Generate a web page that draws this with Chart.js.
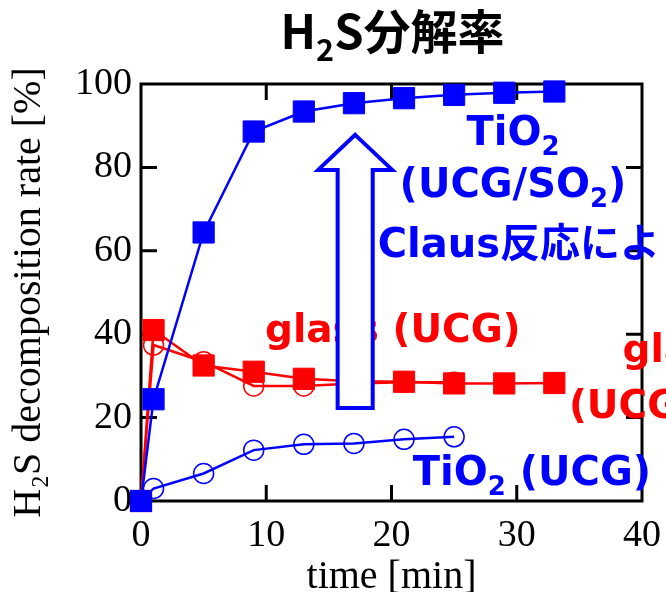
<!DOCTYPE html>
<html>
<head>
<meta charset="utf-8">
<script src="https://cdn.jsdelivr.net/npm/chart.js@4.4.1/dist/chart.umd.min.js"></script>
<style>
  body { margin: 0; background: #fff; }
  canvas { display: block; }
</style>
</head>
<body>
<canvas id="rateChart" width="666" height="592"></canvas>
<script>
// sampling times [min]
const timeSO2 = [0, 1, 5, 9, 13, 17, 21, 25, 29, 33];
const timeUCG = [0, 1, 5, 9, 13, 17, 21, 25];

// H2S decomposition rate [%]
const tio2SO2 = [0, 24.4, 64.4, 88.6, 93.4, 95.4, 96.6, 97.4, 97.9, 98.2];
const glassSO2 = [0, 41, 32.5, 31, 29.3, 28.7, 28.6, 28.2, 28.2, 28.3];
const glassUCG = [0, 37.4, 33.4, 27.6, 27.6, 28.2, 28.5, 28.5];
const tio2UCG = [0, 3.0, 6.6, 12.2, 13.6, 13.8, 14.8, 15.4];

const xTicks = [0, 10, 20, 30, 40];
const yTicks = [0, 20, 40, 60, 80, 100];

const BLUE = "#0000ff";
const RED = "#ff0000";
const LABEL_FONT = "'DejaVu Sans', 'Noto Sans CJK JP', sans-serif";
const SERIF = "'Liberation Serif', 'Times New Roman', serif";

function points(xs, ys) {
  return xs.map((t, i) => ({ x: t, y: ys[i] }));
}

// text with subscripts: parts = [[text, isSub], ...]
function richText(ctx, parts, x, y, align, size, family, color) {
  const subSize = size * 0.65;
  let width = 0;
  parts.forEach(p => {
    ctx.font = "bold " + (p[1] ? subSize : size) + "px " + family;
    width += ctx.measureText(p[0]).width;
  });
  let cx = align == "center" ? x - width / 2 : x;
  ctx.fillStyle = color;
  ctx.textBaseline = "alphabetic";
  ctx.textAlign = "left";
  parts.forEach(p => {
    ctx.font = "bold " + (p[1] ? subSize : size) + "px " + family;
    ctx.fillText(p[0], cx, p[1] ? y + size * 0.25 : y);
    cx += ctx.measureText(p[0]).width;
  });
}

// labels placed in data units
const underArrowNotes = [
  { parts: [["glass (UCG)"]], x: 9.9, y: 38.1, align: "left", color: RED, size: 39 }
];
const notes = [
  { parts: [["TiO"], ["2", true]], x: 29.7, y: 85.4, align: "center", color: BLUE, size: 40 },
  { parts: [["(UCG/SO"], ["2", true], [")"]], x: 29.7, y: 72.9, align: "center", color: BLUE, size: 40 },
  { parts: [["Claus反応により"]], x: 18.9, y: 58.5, align: "left", color: BLUE, size: 40 },
  { parts: [["glass"]], x: 43, y: 33.3, align: "center", color: RED, size: 39 },
  { parts: [["(UCG/SO"], ["2", true], [")"]], x: 43, y: 19.9, align: "center", color: RED, size: 39 },
  { parts: [["TiO"], ["2", true], [" (UCG)"]], x: 21.7, y: 3.8, align: "left", color: BLUE, size: 40 }
];

const framePlugin = {
  id: "frame",
  beforeDatasetsDraw(chart) {
    const { ctx, chartArea: a, scales: { x, y } } = chart;
    ctx.save();
    ctx.strokeStyle = "#000";
    ctx.lineWidth = 3;
    ctx.strokeRect(a.left, a.top, a.right - a.left, a.bottom - a.top);
    ctx.beginPath();
    xTicks.slice(1, -1).forEach(v => {
      const px = x.getPixelForValue(v);
      ctx.moveTo(px, a.bottom); ctx.lineTo(px, a.bottom - 16);
      ctx.moveTo(px, a.top); ctx.lineTo(px, a.top + 16);
    });
    yTicks.slice(1, -1).forEach(v => {
      const py = y.getPixelForValue(v);
      ctx.moveTo(a.left, py); ctx.lineTo(a.left + 16, py);
      ctx.moveTo(a.right, py); ctx.lineTo(a.right - 16, py);
    });
    ctx.stroke();
    ctx.restore();
  }
};

const notesPlugin = {
  id: "notes",
  afterDatasetsDraw(chart) {
    const { ctx, chartArea: a, scales: { x, y } } = chart;
    ctx.save();
    underArrowNotes.forEach(n => {
      richText(ctx, n.parts, x.getPixelForValue(n.x), y.getPixelForValue(n.y), n.align, n.size, LABEL_FONT, n.color);
    });

    // hollow arrow (Claus reaction)
    const cx = 17.1, half = 1.4, headHalf = 2.96;
    const pts = [
      [cx, 87.8], [cx + headHalf, 79.4], [cx + half, 79.4], [cx + half, 22.3],
      [cx - half, 22.3], [cx - half, 79.4], [cx - headHalf, 79.4]
    ];
    ctx.beginPath();
    pts.forEach((p, i) => {
      const px = x.getPixelForValue(p[0]), py = y.getPixelForValue(p[1]);
      if (i == 0) ctx.moveTo(px, py); else ctx.lineTo(px, py);
    });
    ctx.closePath();
    ctx.fillStyle = "#fff";
    ctx.fill();
    ctx.strokeStyle = BLUE;
    ctx.lineWidth = 4;
    ctx.lineJoin = "miter";
    ctx.stroke();

    notes.forEach(n => {
      richText(ctx, n.parts, x.getPixelForValue(n.x), y.getPixelForValue(n.y), n.align, n.size, LABEL_FONT, n.color);
    });

    // chart title
    richText(ctx, [["H"], ["2", true], ["S分解率"]], (a.left + a.right) / 2 + 1, 49, "center", 47,
      "'Noto Sans CJK JP', sans-serif", "#000");
    ctx.restore();
  }
};

new Chart(document.getElementById("rateChart"), {
  type: "line",
  data: {
    datasets: [
      {
        data: points(timeSO2, tio2SO2),
        borderColor: BLUE, backgroundColor: BLUE, borderWidth: 2.5,
        pointStyle: "rect", pointRadius: 15, pointBorderWidth: 1,
        order: 0, clip: false
      },
      {
        data: points(timeSO2, glassSO2),
        borderColor: RED, backgroundColor: RED, borderWidth: 2.5,
        pointStyle: "rect", pointRadius: 15, pointBorderWidth: 1,
        order: 1, clip: false
      },
      {
        data: points(timeUCG, tio2UCG),
        borderColor: BLUE, backgroundColor: "rgba(0,0,0,0)", borderWidth: 2.5,
        pointStyle: "circle", pointRadius: 10, pointBorderWidth: 1.5,
        order: 2, clip: false
      },
      {
        data: points(timeUCG, glassUCG),
        borderColor: RED, backgroundColor: "rgba(0,0,0,0)", borderWidth: 2.5,
        pointStyle: "circle", pointRadius: 10, pointBorderWidth: 1.5,
        order: 3, clip: false
      }
    ]
  },
  options: {
    responsive: false,
    animation: false,
    layout: { padding: { top: 84, right: 24, left: 0, bottom: 0 } },
    plugins: {
      legend: { display: false },
      tooltip: { enabled: false },
      title: { display: false }
    },
    scales: {
      x: {
        type: "linear",
        min: 0, max: 40,
        afterBuildTicks: s => { s.ticks = xTicks.map(v => ({ value: v })); },
        afterFit: s => { s.height = 91; s.paddingLeft = 0; s.paddingRight = 0; },
        grid: { display: false, drawTicks: false },
        border: { display: false },
        ticks: { color: "#000", padding: 12, maxRotation: 0, font: { size: 38, family: SERIF } },
        title: {
          display: true, text: "time [min]", color: "#000", padding: 0,
          font: { size: 40, family: SERIF, lineHeight: 0.75 }
        }
      },
      y: {
        type: "linear",
        min: 0, max: 100,
        afterBuildTicks: s => { s.ticks = yTicks.map(v => ({ value: v })); },
        afterFit: s => { s.width = 141; s.paddingTop = 0; s.paddingBottom = 0; },
        grid: { display: false, drawTicks: false },
        border: { display: false },
        ticks: { color: "#000", padding: 9, font: { size: 38, family: SERIF } },
        title: {
          display: true, text: "H₂S decomposition rate [%]", color: "#000",
          padding: { top: 5, bottom: 0 },
          font: { size: 40, family: SERIF }
        }
      }
    }
  },
  plugins: [framePlugin, notesPlugin]
});
</script>
</body>
</html>
